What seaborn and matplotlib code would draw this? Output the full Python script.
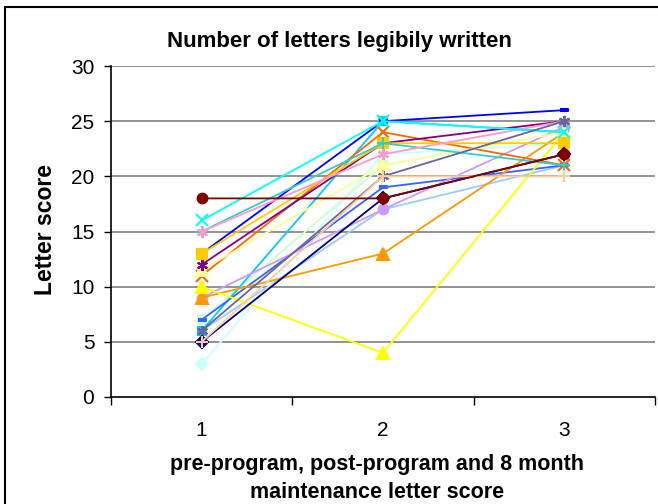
import matplotlib
matplotlib.use("Agg")
import matplotlib.pyplot as plt
from matplotlib.lines import Line2D
import seaborn as sns
import pandas as pd

sns.set_style("white")
plt.rcParams['font.family'] = ['Liberation Sans', 'DejaVu Sans']
plt.rcParams['text.color'] = 'black'
plt.rcParams['xtick.labelcolor'] = 'black'
plt.rcParams['ytick.labelcolor'] = 'black'

# Data: letter scores at pre-program (1), post-program (2), 8 month maintenance (3)
sessions = [1, 2, 3]
navy = [5, 18, 22]
maroon = [18, 18, 22]
cyan = [16, 25, 24]
teal = [15, 23, 21]
pink = [15, 22, 25]
gold = [13, 23, 23]
blue = [13, 25, 26]
purple = [12, 23, 25]
light_yellow = [11.5, 21, 24]
orange_x = [11, 24, 21]
yellow = [10, 4, 24]
lavender = [9, 17, 24.5]
orange = [9, 13, 24]
light_green = [7, 21, 24]
royal_blue = [7, 19, 21]
deep_sky = [6, 25, 24]
slate = [6, 20, 25]
peach = [5, 20, 20]
light_cyan = [3, 22, 23]
light_sky = [6, 17, 21]

dash = [(-1, -0.35), (1, -0.35), (1, 0.35), (-1, 0.35)]
star = (6, 2, 0)

# series: (values, colour, marker, size)
series = [
    (light_sky, '#99CCFF', 'o', 0),
    (light_cyan, '#CCFFFF', 'D', 6),
    (light_green, '#CCFFCC', 's', 6),
    (deep_sky, '#00CCFF', 's', 6),
    (royal_blue, '#3366FF', dash, 6),
    (lavender, '#CC99FF', 'o', 7),
    (orange, '#FF9900', '^', 8),
    (yellow, '#FFFF00', '^', 8),
    (orange_x, '#FF6600', 'x', 8),
    (light_yellow, '#FFFF99', '^', 8),
    (purple, '#800080', star, 8),
    (blue, '#0000FF', dash, 6),
    (gold, '#FFCC00', 's', 7),
    (teal, '#33CCCC', '+', 8),
    (pink, '#FF99CC', star, 8),
    (cyan, '#00FFFF', 'x', 8),
    (slate, '#666699', star, 8),
    (navy, '#000080', 'D', 6),
    (peach, '#FFCC99', '+', 8),
    (maroon, '#800000', 'o', 7),
]

fig = plt.figure(figsize=(6.58, 5.04), dpi=100)
ax = fig.add_axes([111 / 658, 1 - 397 / 504, 544 / 658, 331 / 504])

for vals, col, mk, ms in series:
    df = pd.DataFrame({'session': sessions, 'score': vals})
    sns.lineplot(data=df, x='session', y='score', ax=ax, color=col, lw=1.3,
                 marker=mk, markersize=ms, markeredgecolor=col,
                 markerfacecolor=col, markeredgewidth=1.5, errorbar=None)

ax.set_xlim(0.5, 3.5)
ax.set_ylim(0, 30)
ax.set_yticks(range(0, 31, 5))
for y in range(5, 31, 5):
    ax.axhline(y, color='#808080', lw=1.2, zorder=0)

ax.set_xticks(sessions)
ax.set_xticks([0.5, 1.5, 2.5, 3.5], minor=True)
ax.tick_params(axis='x', which='major', length=0, pad=17, labelsize=15,
               labelcolor='black')
ax.tick_params(axis='x', which='minor', length=6, width=1, color='black',
               direction='out', bottom=True)
ax.tick_params(axis='y', length=5, width=1, color='black', direction='out',
               left=True, pad=7, labelsize=15, labelcolor='black')
ax.set_xlabel('')
ax.set_ylabel('')
for s in ['top', 'right']:
    ax.spines[s].set_visible(False)
for s in ['left', 'bottom']:
    ax.spines[s].set_color('black')
    ax.spines[s].set_linewidth(1.2)

fig.text(339 / 658, 1 - 41 / 504, 'Number of letters legibily written',
         ha='center', va='center', fontsize=16, fontweight='bold')
fig.text(45 / 658, 1 - 230 / 504, 'Letter score', rotation=90,
         ha='center', va='center', fontsize=16.5, fontweight='bold')
fig.text(377 / 658, 1 - 470 / 504, 'pre-program, post-program and 8 month',
         ha='center', va='baseline', fontsize=15.5, fontweight='bold')
fig.text(377 / 658, 1 - 498 / 504, 'maintenance letter score',
         ha='center', va='baseline', fontsize=15.5, fontweight='bold')

# chart area border (Excel style)
fig.add_artist(Line2D([5 / 658, 5 / 658], [0, 1 - 7 / 504], color='black',
                      lw=1.5, transform=fig.transFigure))
fig.add_artist(Line2D([5 / 658, 1], [1 - 7 / 504, 1 - 7 / 504], color='black',
                      lw=1.5, transform=fig.transFigure))

fig.savefig('out.png', dpi=100)
